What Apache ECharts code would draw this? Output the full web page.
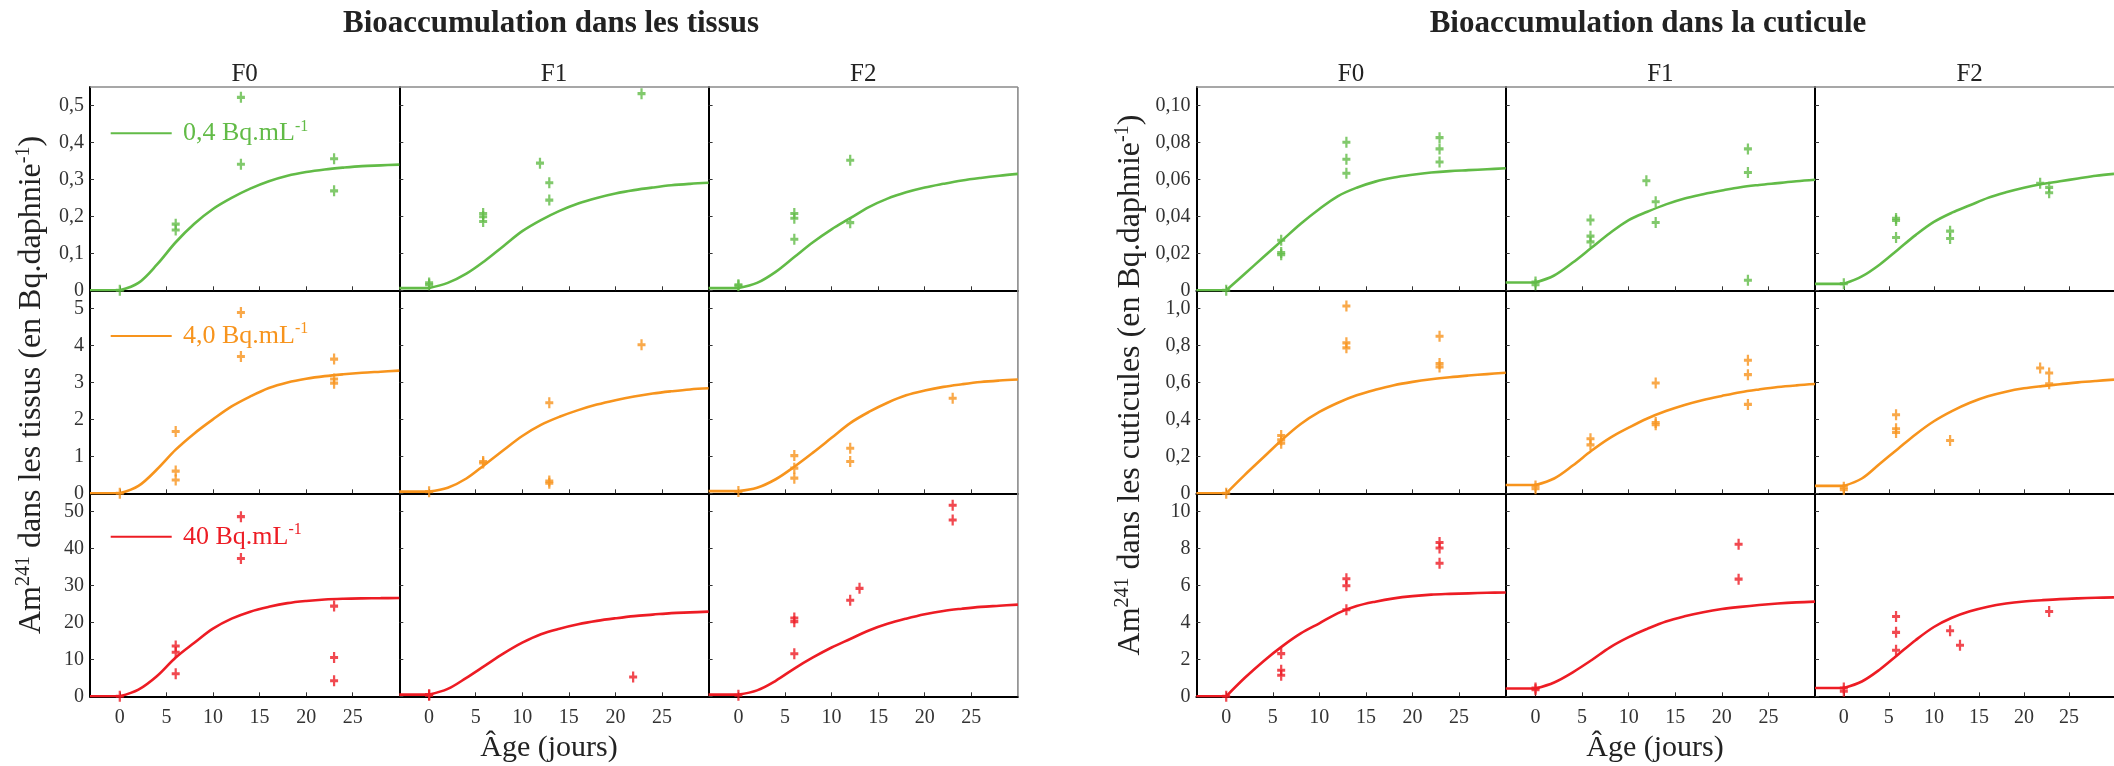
<!DOCTYPE html>
<html><head><meta charset="utf-8">
<script src="https://cdn.jsdelivr.net/npm/echarts@6/dist/echarts.min.js"></script>
<style>html,body{margin:0;padding:0;background:#fff}#c{width:2114px;height:766px}</style>
</head><body><div id="c"></div><script>
// ---------- DATA ----------
const fitDays = [-3.2, 0, 2, 4, 6, 8, 10, 12, 14, 16, 18, 20, 22, 24, 26, 28, 30];
const xTickValues = [0, 5, 10, 15, 20, 25];

// Tissus – fitted curves
const tisF0c1Fit = [0,0,0.02,0.07,0.13,0.18,0.22,0.25,0.275,0.295,0.31,0.32,0.327,0.332,0.336,0.338,0.34];
const tisF1c1Fit = [0.006,0.006,0.02,0.045,0.08,0.12,0.16,0.19,0.215,0.235,0.25,0.262,0.271,0.278,0.284,0.288,0.291];
const tisF2c1Fit = [0.006,0.006,0.02,0.05,0.09,0.13,0.165,0.195,0.225,0.248,0.265,0.278,0.288,0.297,0.304,0.31,0.315];
const tisF0c2Fit = [0,0,0.2,0.65,1.18,1.62,2.0,2.35,2.62,2.85,3.0,3.1,3.17,3.22,3.26,3.29,3.32];
const tisF1c2Fit = [0.045,0.045,0.15,0.4,0.78,1.17,1.55,1.85,2.07,2.25,2.4,2.52,2.62,2.7,2.76,2.81,2.84];
const tisF2c2Fit = [0.06,0.06,0.15,0.38,0.72,1.1,1.5,1.9,2.2,2.45,2.65,2.78,2.88,2.95,3.01,3.05,3.08];
const tisF0c3Fit = [0,0,1.8,5.5,10.5,14.5,18.3,21.0,22.9,24.2,25.2,25.8,26.2,26.4,26.5,26.55,26.6];
const tisF1c3Fit = [0.45,0.45,2.0,5.0,8.3,11.6,14.5,16.8,18.3,19.5,20.4,21.1,21.7,22.1,22.5,22.7,22.9];
const tisF2c3Fit = [0.45,0.45,1.6,4.2,7.5,10.5,13.2,15.5,17.8,19.6,21.0,22.2,23.1,23.7,24.2,24.5,24.8];

// Tissus – measurements [day, value]
const tisF0c1Pts = [[0,0],[6,0.179],[6,0.163],[13,0.522],[13,0.341],[23,0.356],[23,0.269]];
const tisF1c1Pts = [[0,0.02],[0,0.015],[5.8,0.208],[5.8,0.199],[5.8,0.186],[11.9,0.344],[12.9,0.291],[12.9,0.244],[22.8,0.532]];
const tisF2c1Pts = [[0,0.015],[0,0.012],[6,0.208],[6,0.195],[6,0.138],[12,0.352],[12,0.183]];
const tisF0c2Pts = [[0,0],[6,1.67],[6,0.60],[6,0.36],[13,4.89],[13,3.70],[23,3.63],[23,3.09],[23,2.98]];
const tisF1c2Pts = [[0,0.045],[5.8,0.86],[5.8,0.82],[12.9,2.45],[12.9,0.33],[12.9,0.27],[22.8,4.02]];
const tisF2c2Pts = [[0,0.05],[6,1.02],[6,0.68],[6,0.41],[12,1.22],[12,0.86],[23,2.57]];
const tisF0c3Pts = [[0,0],[6,13.6],[6,11.9],[6,6.1],[13,48.6],[13,37.3],[23,24.4],[23,10.5],[23,4.2]];
const tisF1c3Pts = [[0,0.45],[0,0.3],[21.9,5.2]];
const tisF2c3Pts = [[0,0.3],[6,21.2],[6,20.2],[6,11.5],[12,26.0],[13,29.2],[23,51.7],[23,47.7]];

// Cuticule – fitted curves
const cutF0c1Fit = [0,0,0.009,0.018,0.027,0.036,0.044,0.051,0.0555,0.0588,0.061,0.0625,0.0637,0.0645,0.065,0.0655,0.066];
const cutF1c1Fit = [0.0042,0.0042,0.008,0.015,0.023,0.031,0.038,0.0425,0.0465,0.0497,0.052,0.054,0.0558,0.057,0.058,0.059,0.0598];
const cutF2c1Fit = [0.0035,0.0035,0.0075,0.014,0.022,0.03,0.037,0.042,0.046,0.05,0.053,0.0555,0.0575,0.059,0.0605,0.062,0.063];
const cutF0c2Fit = [0,0,0.1,0.195,0.29,0.375,0.44,0.49,0.53,0.56,0.585,0.603,0.617,0.628,0.637,0.645,0.652];
const cutF1c2Fit = [0.045,0.045,0.08,0.15,0.23,0.3,0.355,0.405,0.445,0.478,0.505,0.527,0.547,0.562,0.575,0.584,0.591];
const cutF2c2Fit = [0.04,0.04,0.08,0.16,0.24,0.32,0.39,0.445,0.49,0.525,0.55,0.568,0.58,0.59,0.6,0.608,0.615];
const cutF0c3Fit = [0,0,1.0,1.9,2.7,3.4,3.95,4.5,4.88,5.12,5.3,5.42,5.5,5.54,5.57,5.6,5.62];
const cutF1c3Fit = [0.42,0.42,0.75,1.3,1.95,2.65,3.2,3.65,4.05,4.33,4.55,4.72,4.84,4.94,5.02,5.08,5.12];
const cutF2c3Fit = [0.45,0.45,0.8,1.45,2.25,3.05,3.75,4.25,4.6,4.85,5.02,5.13,5.2,5.26,5.3,5.33,5.35];

// Cuticule – measurements
const cutF0c1Pts = [[0,0],[5.9,0.0271],[5.9,0.0204],[5.9,0.0193],[12.9,0.0801],[12.9,0.0709],[12.9,0.0633],[22.9,0.0826],[22.9,0.0765],[22.9,0.0694]];
const cutF1c1Pts = [[0,0.0045],[0,0.003],[5.9,0.038],[5.9,0.0293],[5.9,0.0262],[11.9,0.0593],[12.9,0.0479],[12.9,0.0367],[22.8,0.0765],[22.8,0.0637],[22.8,0.0054]];
const cutF2c1Pts = [[0,0.0036],[5.8,0.0389],[5.8,0.0378],[5.8,0.0286],[11.8,0.032],[11.8,0.028],[21.8,0.0579],[22.8,0.0557],[22.8,0.0528]];
const cutF0c2Pts = [[0,0],[5.9,0.313],[5.9,0.289],[5.9,0.271],[12.9,1.013],[12.9,0.814],[12.9,0.787],[22.9,0.85],[22.9,0.702],[22.9,0.684]];
const cutF1c2Pts = [[0,0.04],[0,0.025],[5.9,0.295],[5.9,0.262],[12.9,0.597],[12.9,0.383],[12.9,0.371],[22.8,0.72],[22.8,0.642],[22.8,0.481]];
const cutF2c2Pts = [[0,0.033],[0,0.02],[5.8,0.425],[5.8,0.349],[5.8,0.329],[11.8,0.286],[21.8,0.678],[22.8,0.651],[22.8,0.593]];
const cutF0c3Pts = [[0,0],[5.9,2.31],[5.9,1.41],[5.9,1.14],[12.9,6.36],[12.9,5.98],[12.9,4.68],[22.9,8.32],[22.9,8.02],[22.9,7.2]];
const cutF1c3Pts = [[0,0.45],[0,0.35],[21.8,8.23],[21.8,6.34]];
const cutF2c3Pts = [[0,0.45],[0,0.27],[5.8,4.32],[5.8,3.46],[5.8,2.49],[11.8,3.55],[12.9,2.76],[22.8,4.59]];

// Y ticks / labels per row
const tisRow1Ticks = [0,0.1,0.2,0.3,0.4,0.5];   const tisRow1Labels = ['0','0,1','0,2','0,3','0,4','0,5'];
const tisRow2Ticks = [0,1,2,3,4,5];             const tisRow2Labels = ['0','1','2','3','4','5'];
const tisRow3Ticks = [0,10,20,30,40,50];        const tisRow3Labels = ['0','10','20','30','40','50'];
const cutRow1Ticks = [0,0.02,0.04,0.06,0.08,0.10]; const cutRow1Labels = ['0','0,02','0,04','0,06','0,08','0,10'];
const cutRow2Ticks = [0,0.2,0.4,0.6,0.8,1.0];   const cutRow2Labels = ['0','0,2','0,4','0,6','0,8','1,0'];
const cutRow3Ticks = [0,2,4,6,8,10];            const cutRow3Labels = ['0','2','4','6','8','10'];
const tisRowMax = [0.55, 5.5, 55];
const cutRowMax = [0.11, 1.1, 11];

const generations = ['F0','F1','F2'];
const concLabels = ['0,4 Bq.mL', '4,0 Bq.mL', '40 Bq.mL'];
const panelTitles = ['Bioaccumulation dans les tissus', 'Bioaccumulation dans la cuticule'];
const yTitleWords = ['dans les tissus (en Bq.daphnie', 'dans les cuticules (en Bq.daphnie'];
const xTitle = 'Âge (jours)';

// ---------- LAYOUT ----------
const COLORS = ['#62bb47', '#f7941d', '#ed1c24'];
const FONT = "'Liberation Serif', 'DejaVu Serif', serif";
const panelLeft = [90, 1196.4];
const colW = 309.3;
const rowTop = [87, 290, 493];
const rowH = 203.3;

const panels = [
  { fits: [[tisF0c1Fit,tisF1c1Fit,tisF2c1Fit],[tisF0c2Fit,tisF1c2Fit,tisF2c2Fit],[tisF0c3Fit,tisF1c3Fit,tisF2c3Fit]],
    pts:  [[tisF0c1Pts,tisF1c1Pts,tisF2c1Pts],[tisF0c2Pts,tisF1c2Pts,tisF2c2Pts],[tisF0c3Pts,tisF1c3Pts,tisF2c3Pts]],
    ticks: [tisRow1Ticks,tisRow2Ticks,tisRow3Ticks], labels: [tisRow1Labels,tisRow2Labels,tisRow3Labels], max: tisRowMax },
  { fits: [[cutF0c1Fit,cutF1c1Fit,cutF2c1Fit],[cutF0c2Fit,cutF1c2Fit,cutF2c2Fit],[cutF0c3Fit,cutF1c3Fit,cutF2c3Fit]],
    pts:  [[cutF0c1Pts,cutF1c1Pts,cutF2c1Pts],[cutF0c2Pts,cutF1c2Pts,cutF2c2Pts],[cutF0c3Pts,cutF1c3Pts,cutF2c3Pts]],
    ticks: [cutRow1Ticks,cutRow2Ticks,cutRow3Ticks], labels: [cutRow1Labels,cutRow2Labels,cutRow3Labels], max: cutRowMax }
];

const PLUS = 'path://M3.6,0H6.4V3.6H10V6.4H6.4V10H3.6V6.4H0V3.6H3.6Z';

const grid = [], xAxis = [], yAxis = [], series = [];
let idx = 0;
panels.forEach((P, p) => {
  for (let r = 0; r < 3; r++) {
    for (let c = 0; c < 3; c++) {
      grid.push({ left: panelLeft[p] + c * colW, top: rowTop[r], width: colW, height: rowH, containLabel: false });
      xAxis.push({
        gridIndex: idx, type: 'value', min: -3.2, max: 30,
        axisLine: { show: true, onZero: false, lineStyle: { color: '#000', width: 2 } },
        axisTick: { show: true, inside: true, length: 4, customValues: xTickValues, lineStyle: { color: '#333', width: 1 } },
        axisLabel: { show: r === 2, customValues: xTickValues, margin: 11, fontSize: 20, fontFamily: FONT, color: '#333' },
        splitLine: { show: false }
      });
      const tks = P.ticks[r], lbs = P.labels[r];
      yAxis.push({
        gridIndex: idx, type: 'value', min: 0, max: P.max[r],
        axisLine: { show: true, onZero: false, lineStyle: { color: '#000', width: 2 } },
        axisTick: { show: true, inside: true, length: 4, customValues: tks, lineStyle: { color: '#333', width: 1 } },
        axisLabel: { show: c === 0, customValues: tks, margin: 6, fontSize: 20, fontFamily: FONT, color: '#333',
          formatter: v => { const k = tks.findIndex(t => Math.abs(t - v) < 1e-9); return k >= 0 ? lbs[k] : ''; } },
        splitLine: { show: false }
      });
      const fit = P.fits[r][c];
      const pairs = fitDays.map((d, k) => [d, fit[k]]);
      // flat baseline before day 0
      series.push({
        type: 'line', xAxisIndex: idx, yAxisIndex: idx, showSymbol: false, smooth: false, clip: true,
        data: pairs.slice(0, 2), lineStyle: { color: COLORS[r], width: 2.6 }, z: 2, silent: true
      });
      // growth from day 0
      series.push({
        type: 'line', xAxisIndex: idx, yAxisIndex: idx, showSymbol: false, smooth: 0.35, clip: true,
        data: pairs.slice(1), lineStyle: { color: COLORS[r], width: 2.6 }, z: 2, silent: true
      });
      series.push({
        type: 'scatter', xAxisIndex: idx, yAxisIndex: idx, symbol: PLUS, symbolSize: [8, 11], clip: false,
        data: P.pts[r][c], itemStyle: { color: COLORS[r] }, z: 3, silent: true
      });
      idx++;
    }
  }
});

// ---------- GRAPHIC (texts, frame) ----------
const graphic = [];
const panelRight = [panelLeft[0] + 3 * colW, panelLeft[1] + 3 * colW];
const plotBottom = rowTop[2] + rowH;
const titleCx = [551, 1648];
const xTitleCx = [549, 1655];
const yTitleCx = [32, 1131];
panels.forEach((P, p) => {
  graphic.push({ type: 'line', shape: { x1: panelLeft[p], y1: rowTop[0], x2: panelRight[p], y2: rowTop[0] }, style: { stroke: '#8a8a8a', lineWidth: 1.6 }, z: 1 });
  graphic.push({ type: 'line', shape: { x1: panelRight[p], y1: rowTop[0], x2: panelRight[p], y2: plotBottom }, style: { stroke: '#8a8a8a', lineWidth: 1.6 }, z: 1 });
  graphic.push({ type: 'text', x: titleCx[p], y: 24, style: { text: panelTitles[p], font: 'bold 31px ' + FONT, fill: '#222', align: 'center', verticalAlign: 'middle' } });
  generations.forEach((g, c) => {
    graphic.push({ type: 'text', x: panelLeft[p] + c * colW + colW / 2, y: 74, style: { text: g, font: '25px ' + FONT, fill: '#222', align: 'center', verticalAlign: 'middle' } });
  });
  graphic.push({ type: 'text', x: xTitleCx[p], y: 748, style: { text: xTitle, font: '30px ' + FONT, fill: '#222', align: 'center', verticalAlign: 'middle' } });
  graphic.push({ type: 'text', x: yTitleCx[p], y: 385, rotation: Math.PI / 2,
    style: { text: '{a|Am}{s|241}{a| ' + yTitleWords[p] + '}{s|-1}{a|)}', align: 'center', verticalAlign: 'middle',
      rich: { a: { fontSize: 32, fontFamily: FONT, fill: '#222', color: '#222', lineHeight: 36 },
              s: { fontSize: 20, fontFamily: FONT, fill: '#222', color: '#222', lineHeight: 22, verticalAlign: 'top' } } } });
});
const legY = [133.3, 336, 536.7];
concLabels.forEach((t, r) => {
  graphic.push({ type: 'line', shape: { x1: 110.7, y1: legY[r], x2: 171.7, y2: legY[r] }, style: { stroke: COLORS[r], lineWidth: 2 } });
  graphic.push({ type: 'text', x: 183, y: legY[r], style: { text: '{a|' + t + '}{s|-1}', align: 'left', verticalAlign: 'middle',
    rich: { a: { fontSize: 26, fontFamily: FONT, fill: COLORS[r], color: COLORS[r], lineHeight: 30 },
            s: { fontSize: 16, fontFamily: FONT, fill: COLORS[r], color: COLORS[r], lineHeight: 18, verticalAlign: 'top' } } } });
});

const chart = echarts.init(document.getElementById('c'), null, { renderer: 'canvas' });
chart.setOption({ animation: false, backgroundColor: '#fff', grid, xAxis, yAxis, series, graphic });
</script></body></html>
